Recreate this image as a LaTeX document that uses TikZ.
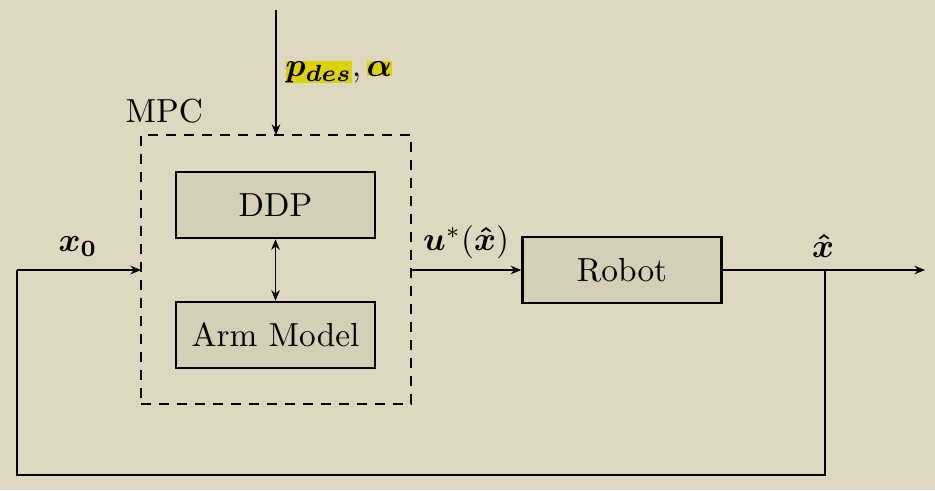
\documentclass[tikz,border=0pt]{standalone}
\usepackage{bm}
\usetikzlibrary{arrows.meta,positioning}
\definecolor{bg}{RGB}{223,216,192}
\definecolor{boxfill}{RGB}{213,207,183}
\definecolor{hl}{RGB}{220,210,0}
\begin{document}
\begin{tikzpicture}[x=0.3pt,y=-0.3pt,
  blk/.style={draw,line width=0.75pt,fill=boxfill,minimum width=59.7pt,minimum height=19.8pt,inner sep=0pt,font=\normalsize},
  conn/.style={line width=0.4pt,-{Stealth[length=3.2pt,width=2.6pt]}},
  wire/.style={line width=0.4pt},
  mpcbox/.style={draw,dashed,line width=0.4pt,dash pattern=on 3pt off 2.4pt}]
\fill[bg] (0,0) rectangle (935,490);
\useasboundingbox (0,0) rectangle (935,490);
% MPC dashed box
\node[mpcbox,minimum width=81pt,minimum height=80.7pt,inner sep=0pt] (mpc) at (276,269.5) {};
\node[anchor=south west,inner sep=0pt] (mpclbl) at (125,124) {MPC};
\node[blk] (ddp) at (275.5,205) {DDP};
\node[blk] (arm) at (275.5,335) {Arm Model};
\node[blk] (robot) at (622,270) {Robot};
\coordinate (top) at (276,10);
\coordinate (mpctop) at (276,135);
\coordinate (x0start) at (17,270);
\coordinate (mpcleft) at (141,270);
\coordinate (mpcright) at (411,270);
\coordinate (branch) at (825,270);
\coordinate (out) at (925,270);
\coordinate (bl) at (17,475);
\coordinate (br) at (825,475);
\draw[conn] (top) -- (mpctop);
\draw[line width=0.4pt,{Stealth[length=3.2pt,width=2.6pt]}-{Stealth[length=3.2pt,width=2.6pt]}] (ddp.south) -- (arm.north);
\draw[conn] (x0start) -- (mpcleft);
\draw[conn] (mpcright) -- (robot.west);
\draw[conn] (robot.east) -- (out);
\draw[wire] (branch) -- (br) -- (bl) -- (x0start);
% labels
\node[anchor=west,inner sep=0pt] (plbl) at (285,72) {{\fboxsep=0pt\colorbox{hl}{$\bm{p_{des}}$}}$,\,${\fboxsep=0pt\colorbox{hl}{$\bm{\alpha}$}}};
\node[inner sep=0pt] (x0lbl) at (78,247) {$\bm{x_0}$};
\node[inner sep=0pt] (ulbl) at (466,242) {$\bm{u}^*(\bm{\hat{x}})$};
\node[inner sep=0pt] (xhlbl) at (823,246) {$\bm{\hat{x}}$};
\end{tikzpicture}
\end{document}
